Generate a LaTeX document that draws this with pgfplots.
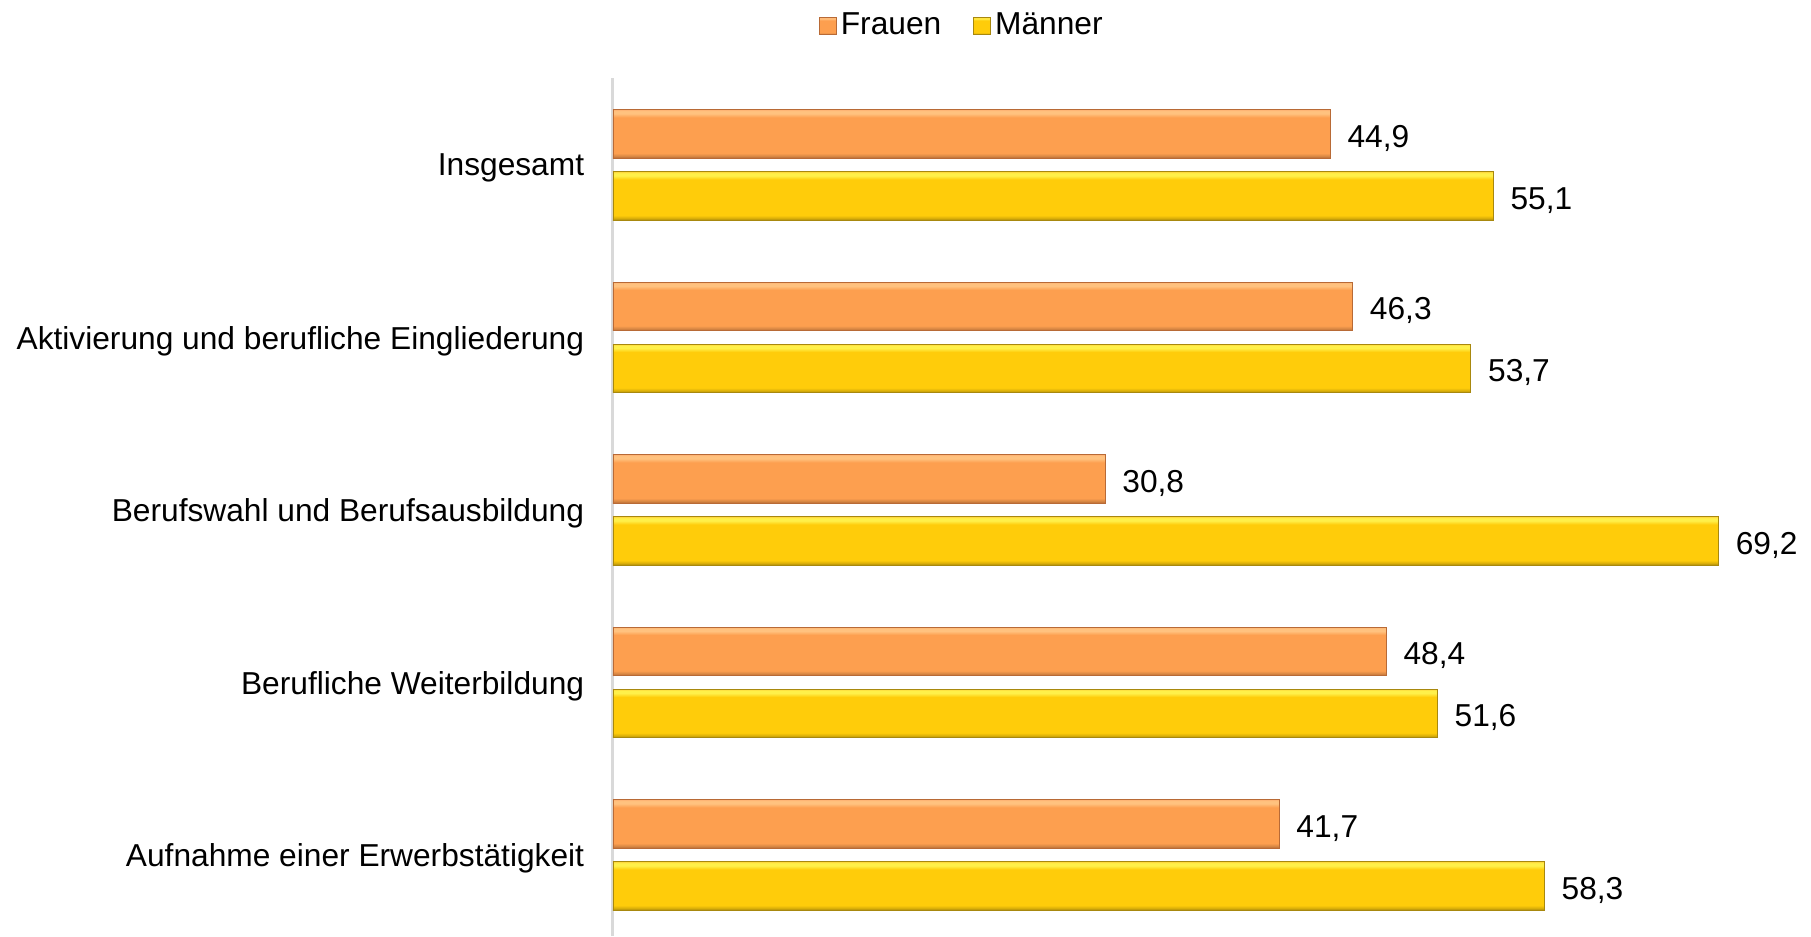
\documentclass[border=0pt]{standalone}
\usepackage{fontspec}
\setmainfont{Liberation Sans}
\usepackage{pgfplots}
\pgfplotsset{compat=1.18}
\definecolor{fmid}{HTML}{FD9F4F}
\definecolor{flight}{HTML}{FFC27F}
\definecolor{fdark}{HTML}{B86A36}
\definecolor{ymid}{HTML}{FFCC0A}
\definecolor{ylight}{HTML}{FFF04A}
\definecolor{ydark}{HTML}{A8880E}
\definecolor{axgray}{HTML}{D9D9D9}
\pgfdeclareverticalshading{fbar}{100bp}{color(0bp)=(fdark); color(25bp)=(fdark); color(27bp)=(fmid!85!black); color(30bp)=(fmid); color(67bp)=(fmid); color(71bp)=(flight); color(73.5bp)=(flight); color(75bp)=(fmid!80!white); color(100bp)=(fmid!80!white)}
\pgfdeclareverticalshading{ybar}{100bp}{color(0bp)=(ydark); color(25bp)=(ydark); color(27bp)=(ymid!85!black); color(30bp)=(ymid); color(67bp)=(ymid); color(71bp)=(ylight); color(73.5bp)=(ylight); color(75bp)=(ymid!80!white); color(100bp)=(ymid!80!white)}
\begin{document}
\fontsize{15.85}{19}\selectfont
\begin{tikzpicture}
\begin{axis}[
  name=ax,
  at={(0,0)}, anchor=south west,
  scale only axis,
  width=599pt, height=429pt,
  xmin=0, xmax=75,
  ymin=-0.47, ymax=4.504,
  xbar,
  bar width=0.28,
  axis x line=none,
  axis y line*=left,
  y axis line style={draw=axgray, line width=1.5pt},
  ytick={0,1,2,3,4},
  yticklabels={Aufnahme einer Erwerbstätigkeit, Berufliche Weiterbildung, Berufswahl und Berufsausbildung, Aktivierung und berufliche Eingliederung, Insgesamt},
  major tick length=0pt,
  ytick style={draw=none},
  yticklabel style={anchor=east, inner sep=0pt, xshift=-14.25pt, yshift=-1.7pt},
  clip=false,
  nodes near coords={\pgfmathprintnumber[assume math mode=true,use comma,fixed,precision=1,fixed zerofill]{\pgfplotspointmeta}},
  nodes near coords style={anchor=west, inner sep=0pt, xshift=8.5pt, yshift=-2.2pt, text=black},
  legend columns=2,
  legend style={draw=none, fill=none, at={(0.292,1.0606)}, anchor=center,
    /tikz/every even column/.append style={column sep=14pt},
    inner sep=0pt},
  legend cell align=left,
  legend image code/.code={\draw[#1, line width=0.4pt] (0pt,-4.25pt) rectangle (8.5pt,4.25pt);},
  fstyle/.style={bar shift=0.18, draw=fdark, line width=0.4pt, shading=fbar},
  mstyle/.style={bar shift=-0.18, draw=ydark, line width=0.4pt, shading=ybar},
]
\addplot[fstyle] coordinates {(44.9,4)};
\addlegendentry{Frauen}
\addplot[mstyle] coordinates {(55.1,4)};
\addlegendentry{Männer}
\addplot[fstyle, forget plot] coordinates {(46.3,3)};
\addplot[mstyle, forget plot] coordinates {(53.7,3)};
\addplot[fstyle, forget plot] coordinates {(30.8,2)};
\addplot[mstyle, forget plot] coordinates {(69.2,2)};
\addplot[fstyle, forget plot] coordinates {(48.4,1)};
\addplot[mstyle, forget plot] coordinates {(51.6,1)};
\addplot[fstyle, forget plot] coordinates {(41.7,0)};
\addplot[mstyle, forget plot] coordinates {(58.3,0)};
\end{axis}
\pgfresetboundingbox
\path[use as bounding box] (ax.south west) ++(-306.5pt,0pt) rectangle ([yshift=39pt]ax.north east);
\end{tikzpicture}
\end{document}
